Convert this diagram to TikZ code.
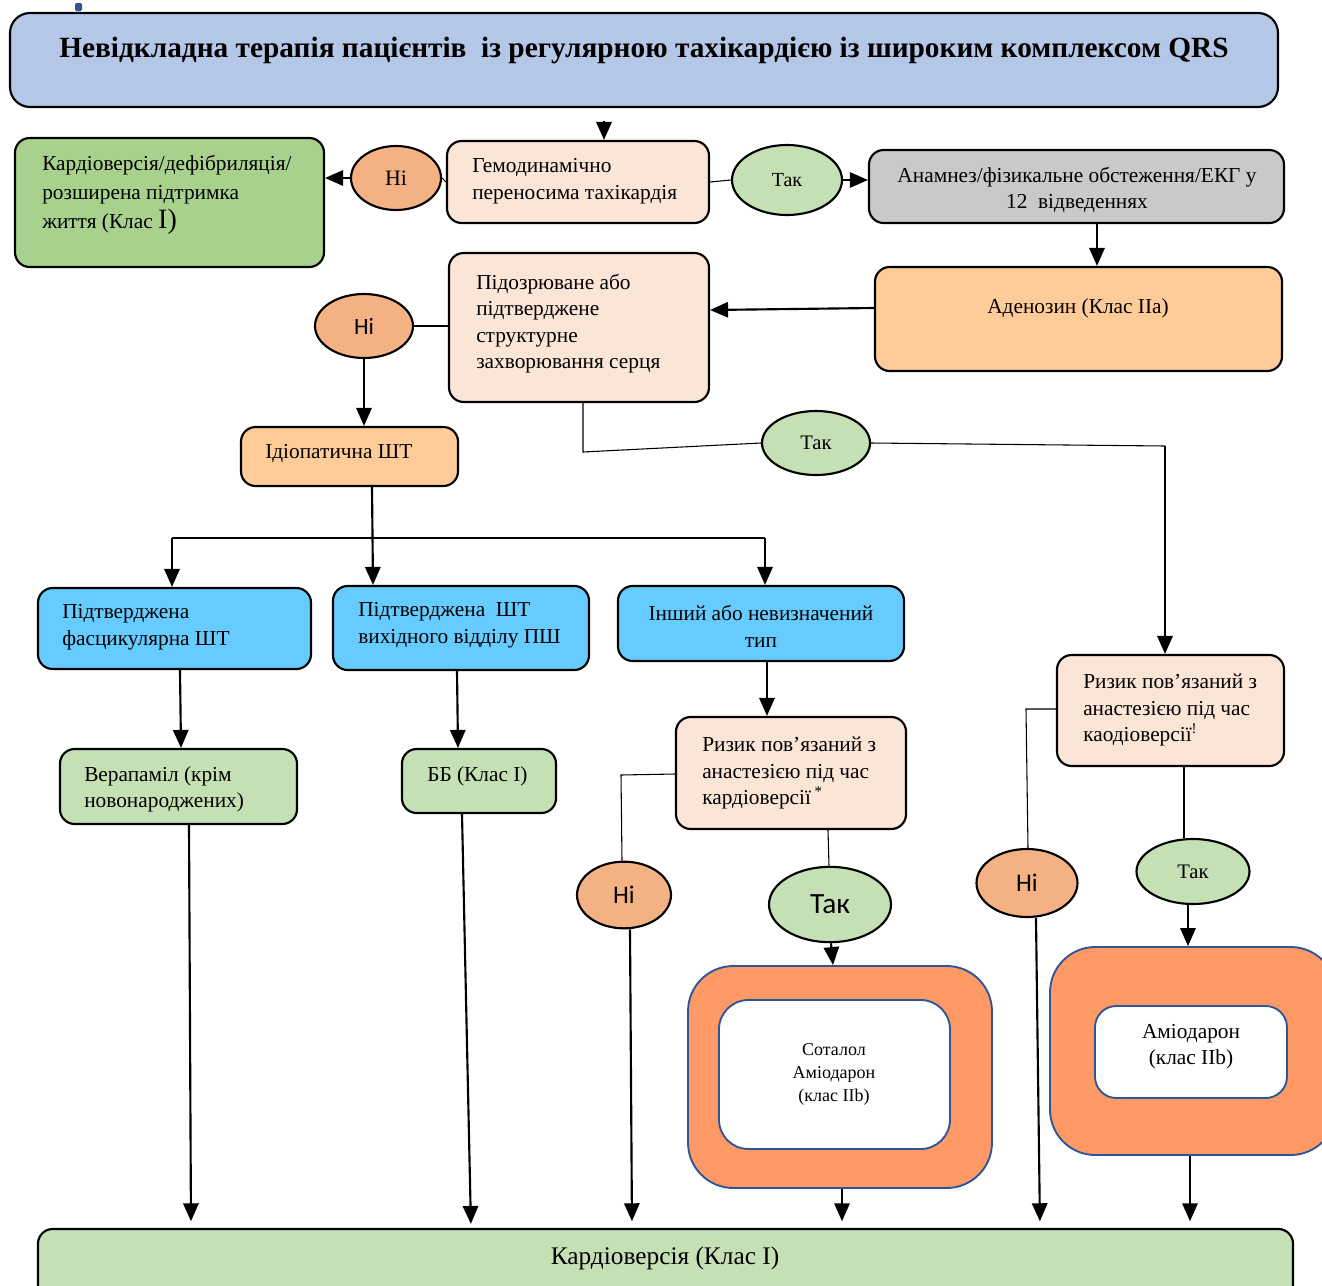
\documentclass[tikz,border=0pt]{standalone}
\usepackage{fontspec}
\setmainfont{Liberation Serif}
\newfontfamily\calfont{Carlito}
\usetikzlibrary{shapes.geometric,fit,arrows.meta}
\definecolor{titleblue}{HTML}{B4C7E7}
\definecolor{peach}{HTML}{FBE5D6}
\definecolor{nicol}{HTML}{F4B183}
\definecolor{takcol}{HTML}{C5E0B4}
\definecolor{greenbox}{HTML}{A9D18E}
\definecolor{greybox}{HTML}{C9C9C9}
\definecolor{lorange}{HTML}{FFCC99}
\definecolor{skyblue}{HTML}{66CCFF}
\definecolor{dorange}{HTML}{FF9966}
\definecolor{bordblue}{HTML}{2F5597}
\begin{document}
\begin{tikzpicture}[x=0.75pt,y=-0.75pt,
  box/.style={draw=black, line width=1.6pt, rounded corners=11pt, inner sep=0pt},
  bbox/.style={draw=bordblue, line width=1.4pt, inner sep=0pt},
  ell/.style={ellipse, draw=black, line width=1.6pt, inner sep=0pt},
  txt/.style={inner sep=0pt, align=left, font=\fontsize{16}{20}\selectfont},
  ctxt/.style={inner sep=0pt, align=center, font=\fontsize{16}{20}\selectfont},
  arr/.style={line width=1.6pt, -{Triangle[length=13.5pt,width=11.5pt]}},
  ln/.style={line width=1.4pt},
  thinln/.style={line width=0.8pt}]
\useasboundingbox (0,0) rectangle (1322,1286);
\clip (0,0) rectangle (1322,1286);

% title
\node[box, rounded corners=15pt, fill=titleblue, fit={(10,13) (1278,107)}] (title) {};
\node[inner sep=0pt, font=\bfseries\fontsize{22}{26}\selectfont] (titlet) at (644,50) {Невідкладна терапія пацієнтів\ \ із регулярною тахікардією із широким комплексом QRS};
\fill[bordblue, rounded corners=1pt] (75,3) rectangle (82,11);

% row 1
\node[box, fill=peach, fit={(447,141) (709,223)}] (gemo) {};
\node[txt, anchor=west] (gemot) at (472,181.5) {Гемодинамічно\\переносима тахікардія};
\node[box, fill=greenbox, fit={(15,138) (324,267)}] (kard) {};
\node[txt, anchor=west, font=\fontsize{16}{21.5}\selectfont] (kardt) at (42,195) {Кардіоверсія/дефібриляція/\\розширена підтримка\\життя (Клас {\fontsize{21}{21}\selectfont I)}};
\node[ell, fill=nicol, minimum width=67.5pt, minimum height=48pt, font=\fontsize{16.5}{20}\selectfont] (ni1) at (396,178) {Ні};
\node[ell, fill=takcol, minimum width=82.5pt, minimum height=52.5pt, font=\fontsize{15}{18}\selectfont] (tak1) at (787,180) {Так};
\node[box, fill=greybox, fit={(869,150) (1284,223)}] (grey) {};
\node[ctxt, font=\fontsize{16}{19.5}\selectfont] (greyt) at (1077,190) {Анамнез/фізикальне обстеження/ЕКГ у\\12\ \ відведеннях};

% row 2
\node[box, fill=lorange, fit={(875,267) (1282,371)}] (aden) {};
\node[ctxt] (adent) at (1078,308) {Аденозин (Клас IIa)};
\node[box, fill=peach, fit={(449,253) (709,402)}] (struct) {};
\node[txt, anchor=west, font=\fontsize{16}{19.75}\selectfont] (structt) at (476,323.5) {Підозрюване або\\підтверджене\\структурне\\захворювання серця};
\node[ell, fill=nicol, minimum width=73.5pt, minimum height=48pt, font=\calfont\fontsize{17.5}{20}\selectfont] (ni2) at (364,326) {Ні};
\node[box, fill=lorange, fit={(241,427) (458,486)}] (idio) {};
\node[txt, anchor=west] (idiot) at (265,453) {Ідіопатична ШТ};
\node[ell, fill=takcol, minimum width=81pt, minimum height=48pt, font=\fontsize{15.5}{18}\selectfont] (tak3) at (816,443) {Так};

% blue row
\node[box, fill=skyblue, fit={(38,588) (311,669)}] (A) {};
\node[txt, anchor=west] (At) at (62,627.5) {Підтверджена\\фасцикулярна ШТ};
\node[box, fill=skyblue, fit={(333,586) (589,670)}] (B) {};
\node[txt, anchor=west] (Bt) at (358,625.5) {Підтверджена\ \ ШТ\\вихідного відділу ПШ};
\node[box, fill=skyblue, fit={(618,586) (904,661)}] (C) {};
\node[ctxt] (Ct) at (761,626.5) {Інший або невизначений\\тип};

% drug row
\node[box, fill=takcol, fit={(60,749) (297,824)}] (verap) {};
\node[txt, anchor=west] (verapt) at (84,789.5) {Верапаміл (крім\\новонароджених)};
\node[box, fill=takcol, fit={(402,749) (556,813)}] (bb) {};
\node[txt, anchor=west] (bbt) at (427,776) {ББ (Клас I)};
\node[box, fill=peach, fit={(676,717) (906,829)}] (risk1) {};
\node[txt, anchor=west] (risk1t) at (702,773) {Ризик пов’язаний з\\анастезією під час\\кардіоверсії\,\textsuperscript{*}};
\node[box, fill=peach, fit={(1057,655) (1284,766)}] (risk2) {};
\node[txt, anchor=west] (risk2t) at (1083,710) {Ризик пов’язаний з\\анастезією під час\\каодіоверсії\textsuperscript{!}};

% decision ellipses lower
\node[ell, fill=nicol, minimum width=70.5pt, minimum height=50pt, font=\calfont\fontsize{19}{22}\selectfont] (ni3) at (624,895) {Ні};
\node[ell, fill=takcol, minimum width=91.5pt, minimum height=56.5pt, font=\calfont\fontsize{22}{24}\selectfont] (takbig) at (830,904.5) {Так};
\node[ell, fill=nicol, minimum width=75.75pt, minimum height=51pt, font=\calfont\fontsize{19}{22}\selectfont] (ni4) at (1027,883) {Ні};
\node[ell, fill=takcol, minimum width=84.75pt, minimum height=48.75pt, font=\fontsize{15.5}{18}\selectfont] (tak4) at (1193,871.5) {Так};

% drug framed boxes
\node[bbox, fill=dorange, rounded corners=34pt, fit={(688,966) (992,1188)}] (sot) {};
\node[bbox, fill=white, rounded corners=22pt, fit={(719,1000) (950,1149)}] (sotin) {};
\node[ctxt, font=\fontsize{13.5}{17}\selectfont] (sott) at (834,1074.5) {Соталол\\Аміодарон\\(клас IIb)};
\node[bbox, fill=dorange, rounded corners=34pt, fit={(1050,947) (1336,1155)}] (amio) {};
\node[bbox, fill=white, rounded corners=16pt, fit={(1095,1006) (1287,1098)}] (amioin) {};
\node[ctxt, font=\fontsize{16}{19.5}\selectfont] (amiot) at (1191,1047) {Аміодарон\\(клас IIb)};

% bottom
\node[box, fill=takcol, fit={(38,1229) (1293,1300)}] (bot) {};
\node[ctxt, font=\fontsize{19}{22}\selectfont] (bott) at (665,1258) {Кардіоверсія (Клас I)};

% connectors
\coordinate (t1) at (604,121);
\draw[arr] (t1) -- (t1 |- gemo.north);
\draw[thinln] (gemo.west) -- (ni1.east);
\draw[arr] (ni1.west) -- (ni1.west -| kard.east);
\draw[thinln] (gemo.east |- 0,182) -- (tak1.west);
\draw[arr] (tak1.east) -- (tak1.east -| grey.west);
\draw[arr] (grey.south -| 1097,0) -- (aden.north -| 1097,0);
\draw[arr] (aden.west |- 0,308) -- (struct.east |- 0,310);
\draw[thinln] (struct.west |- 0,326) -- (ni2.east);
\draw[arr] (ni2.south) -- (idio.north -| ni2.south);
\draw[thinln] (struct.south -| 583,0) -- (583,452) -- (tak3.west);
\coordinate (rc) at (1165,446);
\draw[thinln] (tak3.east) -- (rc);
\draw[arr] (rc) -- (rc |- risk2.north);

\draw[arr] (idio.south -| 372,0) -- (B.north -| 373,0);
\coordinate (sl) at (172,538);
\coordinate (sr) at (765,538);
\draw[ln] (sl) -- (sr);
\draw[arr] (sl) -- (sl |- A.north);
\draw[arr] (sr) -- (sr |- C.north);

\draw[arr] (A.south -| 180,0) -- (verap.north -| 181,0);
\draw[arr] (B.south -| 457,0) -- (bb.north -| 458,0);
\draw[arr] (C.south -| 767,0) -- (risk1.north -| 767,0);

\draw[thinln] (risk1.west |- 0,774) -- (621,775) -- (ni3.north -| 622,0);
\draw[thinln] (risk1.south -| 828,0) -- (takbig.north -| 829,0);
\draw[arr] (takbig.south -| 831,0) -- (sot.north -| 833,0);
\draw[thinln] (risk2.west |- 0,709) -- (1026,709) -- (ni4.north -| 1028,0);
\draw[thinln] (risk2.south -| 1184,0) -- (tak4.north -| 1184,0);
\draw[arr] (tak4.south -| 1188,0) -- (amio.north -| 1188,0);

\draw[arr, shorten >=5pt] (verap.south -| 189,0) -- (bot.north -| 191,0);
\draw[arr, shorten >=3pt] (bb.south -| 462,0) -- (bot.north -| 471,0);
\draw[arr, shorten >=5pt] (ni3.south -| 630,0) -- (bot.north -| 632,0);
\draw[arr, shorten >=5pt] (sot.south -| 842,0) -- (bot.north -| 842,0);
\draw[arr, shorten >=5pt] (ni4.south -| 1036,0) -- (bot.north -| 1040,0);
\draw[arr, shorten >=5pt] (amio.south -| 1190,0) -- (bot.north -| 1190,0);
\end{tikzpicture}
\end{document}
